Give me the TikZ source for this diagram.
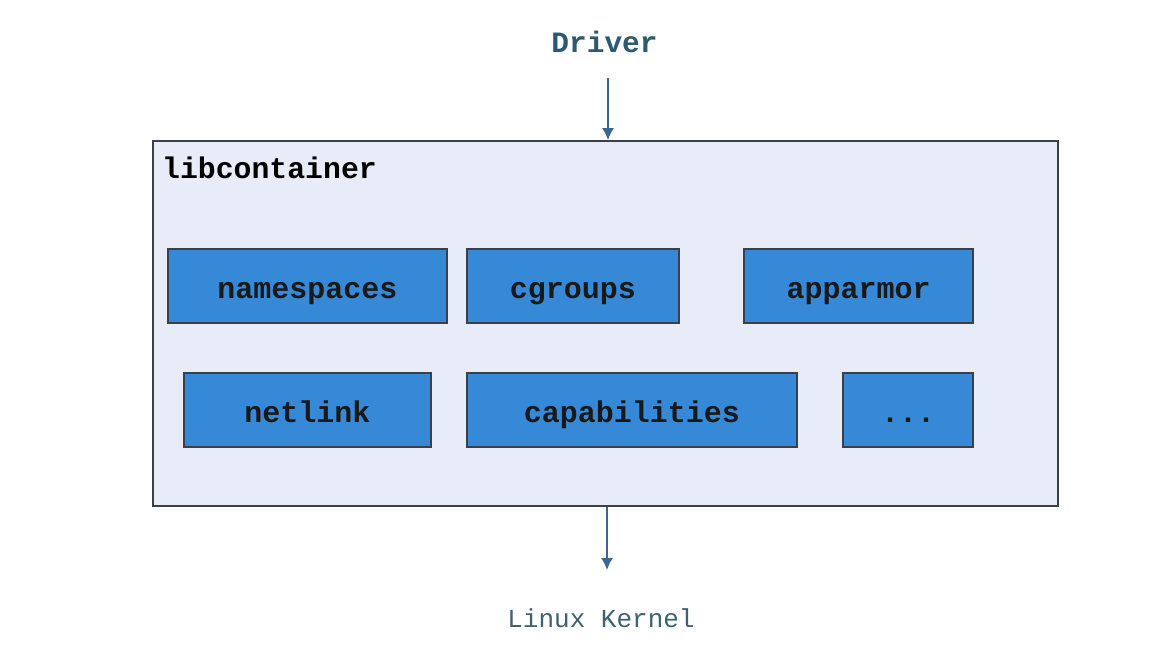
\documentclass[tikz,border=0pt]{standalone}
\usepackage{fontspec}
\setmonofont{Liberation Mono}
\usetikzlibrary{arrows.meta}
\definecolor{outerfill}{HTML}{E7ECF8}
\definecolor{boxfill}{HTML}{3689D6}
\definecolor{drivercol}{HTML}{2C5A70}
\definecolor{arrowcol}{HTML}{3A6890}
\definecolor{kernelcol}{HTML}{3E6270}
\definecolor{edgecol}{HTML}{3A3F48}
\tikzset{
  comp/.style={draw=edgecol, line width=1.8pt, fill=boxfill, inner sep=0pt,
    minimum height=74pt, text height=24pt, text depth=0pt,
    font=\ttfamily\bfseries\fontsize{30}{30}\selectfont, text=black!90},
  flow/.style={draw=arrowcol, line width=1.6pt, -{Latex[length=12pt,width=12pt]}},
}
\begin{document}
\begin{tikzpicture}[x=1pt,y=-1pt]
\useasboundingbox (0,0) rectangle (1166,648);
\fill[white] (0,0) rectangle (1166,648);
\node[draw=edgecol, line width=1.8pt, fill=outerfill, minimum width=905pt, minimum height=365pt, inner sep=0pt] (lib) at (605.5,323.5) {};
\node[anchor=west, font=\ttfamily\bfseries\fontsize{29.8}{30}\selectfont, inner sep=0pt] (libt) at (162,168) {libcontainer};
\node[font=\ttfamily\bfseries\fontsize{29.5}{30}\selectfont, text=drivercol, inner sep=0pt] (drv) at (604.5,42) {Driver};
\node[font=\ttfamily\fontsize{26}{26}\selectfont, text=kernelcol, inner sep=0pt] (ker) at (601,618) {Linux Kernel};
\node[comp, minimum width=279pt] (ns) at (307.5,286) {namespaces};
\node[comp, minimum width=212pt] (cg) at (573,286) {cgroups};
\node[comp, minimum width=229pt] (aa) at (858.5,286) {apparmor};
\node[comp, minimum width=247pt] (nl) at (307.5,410) {netlink};
\node[comp, minimum width=330pt] (cap) at (632,410) {capabilities};
\node[comp, minimum width=130pt] (dots) at (908,410) {...};
\coordinate (dtop) at (608,78);
\coordinate (kbot) at (607,570);
\draw[flow] (dtop) -- (dtop |- lib.north);
\draw[flow] (lib.south -| kbot) -- (kbot);
\end{tikzpicture}
\end{document}
